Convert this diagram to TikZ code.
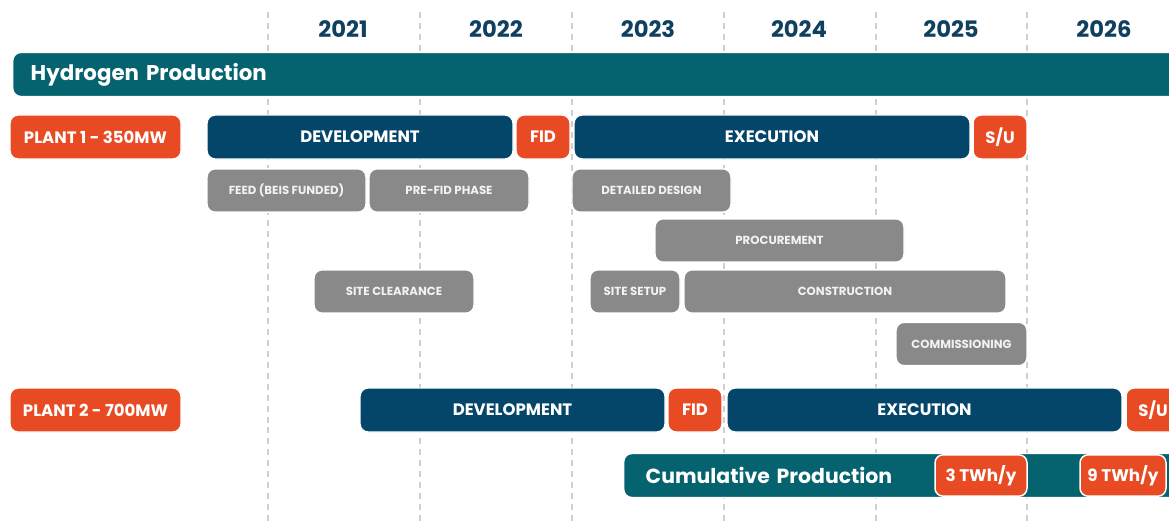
\documentclass[tikz,border=0pt]{standalone}
\usepackage{fontspec}
\setmainfont{Poppins}
\definecolor{teal}{HTML}{05636F}
\definecolor{navy}{HTML}{04456A}
\definecolor{flame}{HTML}{E84B24}
\definecolor{stone}{HTML}{898989}
\definecolor{yearblue}{HTML}{10405F}
\definecolor{gridgrey}{HTML}{CFCFCF}
\begin{document}
\begin{tikzpicture}[x=0.75pt,y=-0.75pt,
  w/.style={minimum width=#1*0.75pt},
  chip/.style={rounded corners=6pt, draw=white, line width=1.1pt, text=white,
    font=\bfseries, inner sep=0pt, minimum height=33pt, anchor=center},
  plant/.style={chip, fill=flame, font=\bfseries\fontsize{12.4}{14}\selectfont},
  phase/.style={chip, fill=navy, font=\bfseries\fontsize{12.4}{14}\selectfont},
  gate/.style={chip, fill=flame, font=\bfseries\fontsize{12.4}{14}\selectfont},
  task/.style={chip, fill=stone, minimum height=32.5pt, text=white!95!black,
    font=\bfseries\fontsize{8.8}{10}\selectfont},
  band/.style={chip, fill=teal, anchor=west, align=left,
    font=\bfseries\fontsize{16}{19}\selectfont},
  output/.style={chip, fill=flame, minimum height=31pt,
    font=\bfseries\fontsize{12.6}{14}\selectfont},
  year/.style={text=yearblue, font=\bfseries\fontsize{17}{20}\selectfont},
  grid/.style={gridgrey, line width=0.9pt, dash pattern=on 4.5pt off 3.7pt}
]
\useasboundingbox (0,0) rectangle (1169,524);
\clip (0,0) rectangle (1169,524);

% year boundaries
\foreach \gx in {268,420,572,724,876,1027}
  \draw[grid] (\gx,12) -- (\gx,524);

% year headings
\node[year] (y2021) at (343,29) {2021};
\node[year] (y2022) at (496,29) {2022};
\node[year] (y2023) at (648,29) {2023};
\node[year] (y2024) at (799,29) {2024};
\node[year] (y2025) at (951,29) {2025};
\node[year] (y2026) at (1104,29) {2026};

% programme band
\node[band, minimum height=33pt, text width=1160*0.75pt, inner xsep=18*0.75pt]
  (hp) at (12,74.5) {Hydrogen Production};

% plant 1
\node[plant, w=171] (p1) at (95.5,137) {PLANT 1 - 350MW};
\node[phase, w=306] (dev1) at (360,137) {DEVELOPMENT};
\node[gate, w=54] (fid1) at (543,137) {FID};
\node[phase, w=396] (exe1) at (772,137) {EXECUTION};
\node[gate, w=54] (su1) at (1000,137) {S/U};

\node[task, w=159] (feed) at (286.5,190.5) {FEED (BEIS FUNDED)};
\node[task, w=160] (prefid) at (449,190.5) {PRE-FID PHASE};
\node[task, w=159] (design) at (651.5,190.5) {DETAILED DESIGN};
\node[task, w=249] (proc) at (779.5,240.5) {PROCUREMENT};
\node[task, w=160] (clear) at (394,291.5) {SITE CLEARANCE};
\node[task, w=90] (setup) at (635,291.5) {SITE SETUP};
\node[task, w=322] (constr) at (845,291.5) {CONSTRUCTION};
\node[task, w=131] (comm) at (961.5,344) {COMMISSIONING};

% plant 2
\node[plant, w=171] (p2) at (95.5,410) {PLANT 2 - 700MW};
\node[phase, w=305] (dev2) at (512.5,410) {DEVELOPMENT};
\node[gate, w=54] (fid2) at (695,410) {FID};
\node[phase, w=395] (exe2) at (924.5,410) {EXECUTION};
\node[gate, w=54] (su2) at (1153,410) {S/U};

% output band
\node[band, minimum height=33pt, text width=560*0.75pt, inner xsep=22*0.75pt,
  font=\bfseries\fontsize{15.3}{18}\selectfont]
  (cum) at (623,475.5) {Cumulative Production};
\node[output, w=92] (twh3) at (981,475.5) {3 TWh/y};
\node[output, w=86] (twh9) at (1123,475.5) {9 TWh/y};
\end{tikzpicture}
\end{document}
